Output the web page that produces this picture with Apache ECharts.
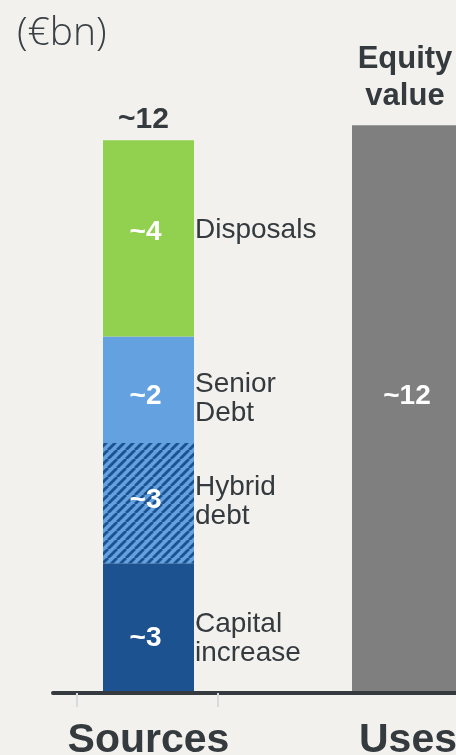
<!DOCTYPE html>
<html>
<head>
<meta charset="utf-8">
<script src="https://cdn.jsdelivr.net/npm/echarts@6/dist/echarts.min.js"></script>
<style>
html,body{margin:0;padding:0;background:#f2f1ee;}
#chart{width:456px;height:755px;}
</style>
</head>
<body>
<div id="chart"></div>
<script>
// ---- data ----
var categories = ['Sources', 'Uses'];
var segmentNames = ['Capital\nincrease', 'Hybrid\ndebt', 'Senior\nDebt', 'Disposals'];
var segmentValues = [2.71, 2.55, 2.26, 4.16];       // Sources stack, bottom to top (€bn)
var segmentLabels = ['~3', '~3', '~2', '~4'];
var sourcesTotalLabel = '~12';
var usesValue = 12.0;
var usesLabel = '~12';
var usesHeader = 'Equity\nvalue';
var unitLabel = '(€bn)';

// ---- styles ----
var FONT = '"Liberation Sans", Arial, Helvetica, sans-serif';
var TEXT = '#343a3e';
var LIGHT = '#63a1e0', DARK = '#1c5290';

// hatch pattern "/" for hybrid debt
function makeHatch() {
  var p = 9;
  var c = document.createElement('canvas');
  c.width = p; c.height = p;
  var g = c.getContext('2d');
  g.fillStyle = LIGHT; g.fillRect(0, 0, p, p);
  g.strokeStyle = DARK; g.lineWidth = 2.8;
  [-p, 0, p].forEach(function (o) {
    g.beginPath(); g.moveTo(o, p); g.lineTo(o + p, 0); g.stroke();
  });
  return {image: c, repeat: 'repeat'};
}
var segColors = [DARK, makeHatch(), LIGHT, '#92d050'];
var segOffsets = [11, -3, 7, -6];
var nameOffsets = [12, -1, 9, -8];

var chart = echarts.init(document.getElementById('chart'), null, {renderer: 'canvas'});

var series = [];
segmentValues.forEach(function (v, i) {
  series.push({
    type: 'bar', name: segmentNames[i], xAxisIndex: 0, yAxisIndex: 0, stack: 'src',
    barWidth: 91,
    data: [v, '-'],
    itemStyle: {color: segColors[i]},
    label: {
      show: true, position: 'inside', formatter: segmentLabels[i],
      color: '#fff', fontFamily: FONT, fontWeight: 'bold', fontSize: 28, lineHeight: 28,
      offset: [-3, segOffsets[i]]
    },
    emphasis: {disabled: true}, silent: true, animation: false
  });
  // side name labels
  series.push({
    type: 'bar', name: segmentNames[i] + '_n', xAxisIndex: 2, yAxisIndex: 0, stack: 'names',
    barWidth: 91,
    data: [v, '-'],
    itemStyle: {color: 'rgba(0,0,0,0)'},
    label: {
      show: true, position: 'right', distance: 1, formatter: segmentNames[i], align: 'left',
      color: TEXT, fontFamily: FONT, fontSize: 28, lineHeight: 29,
      offset: [0, nameOffsets[i]]
    },
    emphasis: {disabled: true}, silent: true, animation: false
  });
});
// total above Sources
series.push({
  type: 'bar', name: 'total', xAxisIndex: 0, yAxisIndex: 0, stack: 'src', barWidth: 91,
  data: [0, '-'],
  itemStyle: {color: 'rgba(0,0,0,0)'},
  label: {show: true, position: 'top', distance: 6, formatter: sourcesTotalLabel,
    color: TEXT, fontFamily: FONT, fontWeight: 'bold', fontSize: 30, lineHeight: 30, offset: [-5, 0]},
  emphasis: {disabled: true}, silent: true, animation: false
});
// Uses bar
series.push({
  type: 'bar', name: 'Uses', xAxisIndex: 1, yAxisIndex: 0, stack: 'use', barWidth: 112,
  data: ['-', usesValue],
  itemStyle: {color: '#7f7f7f'},
  label: {show: true, position: 'inside', formatter: usesLabel,
    color: '#fff', fontFamily: FONT, fontWeight: 'bold', fontSize: 28, lineHeight: 28, offset: [-1, -12]},
  emphasis: {disabled: true}, silent: true, animation: false
});
series.push({
  type: 'bar', name: 'usesHeader', xAxisIndex: 1, yAxisIndex: 0, stack: 'use', barWidth: 112,
  data: ['-', 0],
  itemStyle: {color: 'rgba(0,0,0,0)'},
  label: {show: true, position: 'top', distance: 10, formatter: usesHeader,
    color: TEXT, fontFamily: FONT, fontWeight: 'bold', fontSize: 31, lineHeight: 37, offset: [-3, 0]},
  emphasis: {disabled: true}, silent: true, animation: false
});

var tickCats = [];
for (var k = 0; k < 18; k++) tickCats.push('');

chart.setOption({
  backgroundColor: '#f2f1ee',
  animation: false,
  title: {
    text: unitLabel, left: 12, top: 9,
    textStyle: {fontFamily: '"Open Sans", "Noto Sans", sans-serif', fontWeight: 300, fontSize: 39, color: '#3a4045'}
  },
  grid: [
    {left: 18.75, width: 519, top: 78, bottom: 64, containLabel: false, outerBoundsMode: 'none'},
    {left: 53, width: 423, top: 600, bottom: 62, containLabel: false, outerBoundsMode: 'none'}
  ],
  xAxis: [
    {type: 'category', gridIndex: 0, data: categories,
      axisLine: {show: false}, axisTick: {show: false},
      axisLabel: {margin: 29, color: TEXT, fontFamily: FONT, fontWeight: 'bold', fontSize: 41, lineHeight: 41}},
    {type: 'category', gridIndex: 0, data: categories, show: false},
    {type: 'category', gridIndex: 0, data: categories, show: false},
    {type: 'category', gridIndex: 1, data: tickCats, boundaryGap: true,
      axisLine: {show: true, lineStyle: {color: '#343a3e', width: 4}},
      axisTick: {show: true, length: 14, lineStyle: {color: '#d8dcdf', width: 2},
        interval: function (idx) { return idx === 1 || idx === 7; }},
      axisLabel: {show: false}}
  ],
  yAxis: [
    {type: 'value', gridIndex: 0, min: 0, max: 13, show: false, splitLine: {show: false}},
    {type: 'value', gridIndex: 1, min: 0, max: 1, show: false, splitLine: {show: false}}
  ],
  series: series
});
</script>
</body>
</html>
